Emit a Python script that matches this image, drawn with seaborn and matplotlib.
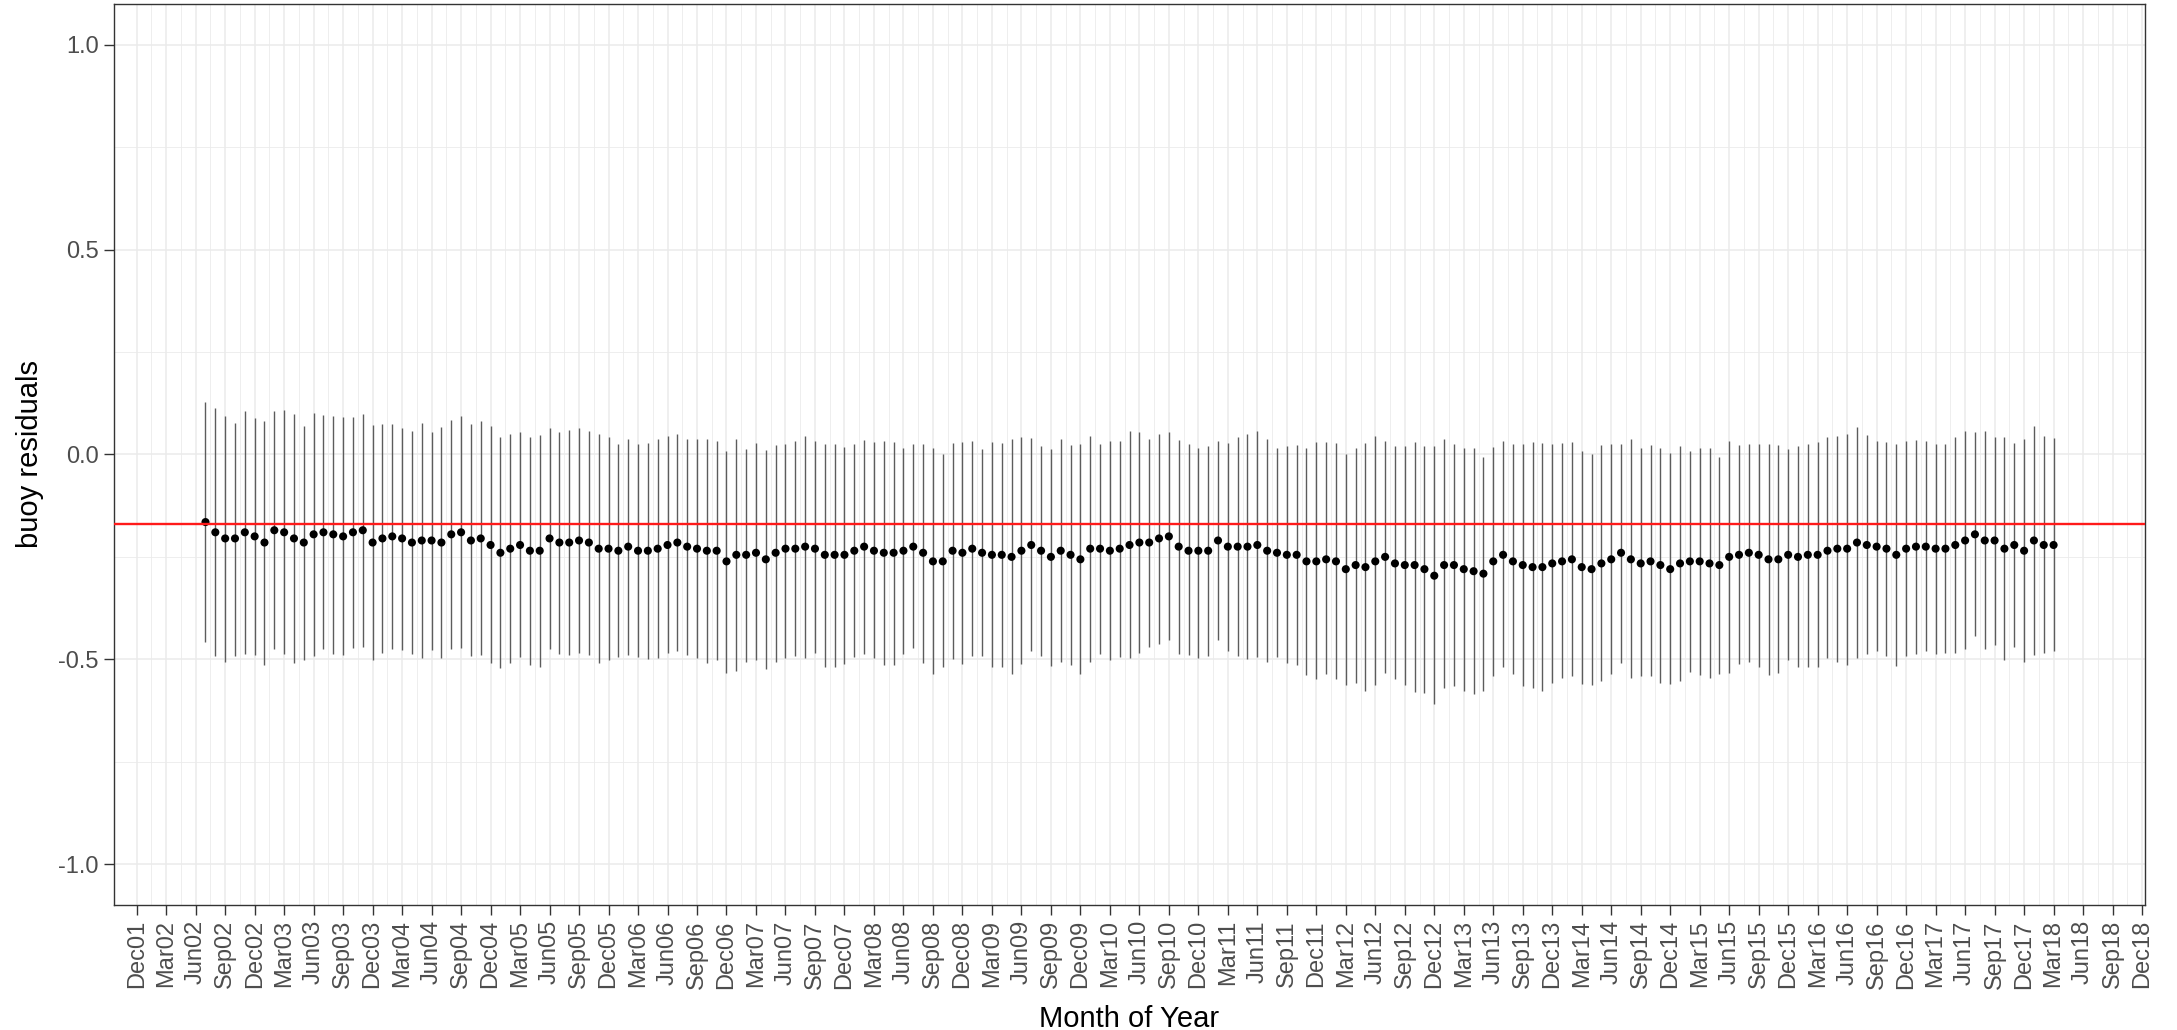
import numpy as np
import pandas as pd
import seaborn as sns
import matplotlib.pyplot as plt

# monthly buoy residuals, Jul 2002 .. Mar 2018
first_month = "2002-07"
resid_mean = [
    -0.165, -0.190, -0.205, -0.205, -0.190, -0.200, -0.215, -0.185, -0.190, -0.205,
    -0.215, -0.195, -0.190, -0.195, -0.200, -0.190, -0.185, -0.215, -0.205, -0.200,
    -0.205, -0.215, -0.210, -0.210, -0.215, -0.195, -0.190, -0.210, -0.205, -0.221,
    -0.240, -0.230, -0.221, -0.235, -0.235, -0.205, -0.215, -0.215, -0.210, -0.215,
    -0.230, -0.230, -0.235, -0.225, -0.235, -0.235, -0.230, -0.221, -0.215, -0.225,
    -0.230, -0.235, -0.235, -0.261, -0.245, -0.245, -0.240, -0.256, -0.240, -0.230,
    -0.230, -0.225, -0.230, -0.245, -0.245, -0.245, -0.235, -0.225, -0.235, -0.240,
    -0.240, -0.235, -0.225, -0.240, -0.261, -0.261, -0.235, -0.240, -0.230, -0.240,
    -0.245, -0.245, -0.250, -0.235, -0.221, -0.235, -0.250, -0.235, -0.245, -0.256,
    -0.230, -0.230, -0.235, -0.230, -0.221, -0.215, -0.215, -0.205, -0.200, -0.225,
    -0.235, -0.235, -0.235, -0.210, -0.225, -0.225, -0.225, -0.221, -0.235, -0.240,
    -0.245, -0.245, -0.261, -0.261, -0.256, -0.261, -0.280, -0.270, -0.275, -0.261,
    -0.250, -0.266, -0.270, -0.270, -0.280, -0.296, -0.270, -0.270, -0.280, -0.285,
    -0.291, -0.261, -0.245, -0.261, -0.270, -0.275, -0.275, -0.266, -0.261, -0.256,
    -0.275, -0.280, -0.266, -0.256, -0.240, -0.256, -0.266, -0.261, -0.270, -0.280,
    -0.266, -0.261, -0.261, -0.266, -0.270, -0.250, -0.245, -0.240, -0.245, -0.256,
    -0.256, -0.245, -0.250, -0.245, -0.245, -0.235, -0.230, -0.230, -0.215, -0.221,
    -0.225, -0.230, -0.245, -0.230, -0.225, -0.225, -0.230, -0.230, -0.221, -0.210,
    -0.195, -0.210, -0.210, -0.230, -0.221, -0.235, -0.210, -0.221, -0.221,
]
resid_upper = [
    0.129, 0.113, 0.095, 0.078, 0.107, 0.089, 0.082, 0.105, 0.108, 0.098,
    0.070, 0.102, 0.096, 0.095, 0.091, 0.092, 0.098, 0.072, 0.074, 0.074,
    0.065, 0.057, 0.076, 0.056, 0.066, 0.083, 0.093, 0.074, 0.082, 0.069,
    0.042, 0.049, 0.056, 0.042, 0.047, 0.065, 0.056, 0.060, 0.065, 0.058,
    0.049, 0.042, 0.025, 0.038, 0.025, 0.029, 0.038, 0.044, 0.049, 0.038,
    0.039, 0.039, 0.032, 0.009, 0.038, 0.013, 0.028, 0.011, 0.024, 0.025,
    0.033, 0.045, 0.034, 0.025, 0.025, 0.019, 0.025, 0.035, 0.031, 0.032,
    0.031, 0.017, 0.025, 0.025, 0.015, 0.001, 0.029, 0.031, 0.034, 0.013,
    0.031, 0.029, 0.038, 0.042, 0.041, 0.021, 0.013, 0.038, 0.023, 0.025,
    0.044, 0.025, 0.033, 0.033, 0.058, 0.054, 0.038, 0.051, 0.054, 0.035,
    0.025, 0.017, 0.021, 0.033, 0.029, 0.042, 0.050, 0.058, 0.038, 0.017,
    0.021, 0.023, 0.017, 0.031, 0.031, 0.028, 0.001, 0.016, 0.029, 0.044,
    0.033, 0.020, 0.020, 0.031, 0.020, 0.020, 0.038, 0.025, 0.016, 0.015,
    -0.007, 0.019, 0.033, 0.025, 0.025, 0.031, 0.029, 0.025, 0.029, 0.031,
    0.008, 0.001, 0.023, 0.025, 0.025, 0.038, 0.017, 0.023, 0.017, 0.003,
    0.021, 0.008, 0.015, 0.017, -0.006, 0.033, 0.023, 0.025, 0.025, 0.025,
    0.024, 0.013, 0.021, 0.025, 0.031, 0.043, 0.044, 0.051, 0.068, 0.047,
    0.033, 0.031, 0.025, 0.033, 0.036, 0.032, 0.025, 0.025, 0.043, 0.058,
    0.056, 0.058, 0.042, 0.042, 0.029, 0.038, 0.069, 0.044, 0.041,
]
resid_lower = [
    -0.457, -0.493, -0.506, -0.493, -0.487, -0.489, -0.514, -0.474, -0.487, -0.510,
    -0.502, -0.493, -0.475, -0.487, -0.489, -0.473, -0.469, -0.502, -0.485, -0.474,
    -0.477, -0.487, -0.496, -0.477, -0.497, -0.474, -0.473, -0.493, -0.489, -0.510,
    -0.522, -0.510, -0.495, -0.514, -0.518, -0.474, -0.487, -0.489, -0.485, -0.489,
    -0.508, -0.502, -0.495, -0.489, -0.495, -0.500, -0.497, -0.484, -0.479, -0.490,
    -0.497, -0.510, -0.502, -0.533, -0.528, -0.506, -0.502, -0.523, -0.506, -0.497,
    -0.493, -0.497, -0.485, -0.518, -0.518, -0.511, -0.495, -0.487, -0.497, -0.514,
    -0.514, -0.487, -0.473, -0.508, -0.536, -0.520, -0.500, -0.511, -0.493, -0.493,
    -0.520, -0.520, -0.536, -0.511, -0.481, -0.493, -0.516, -0.506, -0.514, -0.536,
    -0.506, -0.487, -0.503, -0.495, -0.498, -0.484, -0.469, -0.462, -0.454, -0.487,
    -0.490, -0.497, -0.493, -0.453, -0.479, -0.492, -0.500, -0.495, -0.506, -0.495,
    -0.510, -0.514, -0.538, -0.549, -0.536, -0.549, -0.563, -0.559, -0.577, -0.563,
    -0.534, -0.549, -0.563, -0.579, -0.583, -0.609, -0.571, -0.565, -0.577, -0.585,
    -0.577, -0.541, -0.520, -0.536, -0.565, -0.571, -0.577, -0.559, -0.547, -0.541,
    -0.560, -0.563, -0.552, -0.536, -0.508, -0.547, -0.542, -0.542, -0.559, -0.560,
    -0.552, -0.530, -0.538, -0.547, -0.536, -0.533, -0.511, -0.506, -0.518, -0.538,
    -0.534, -0.502, -0.520, -0.518, -0.520, -0.497, -0.506, -0.514, -0.497, -0.487,
    -0.481, -0.492, -0.516, -0.493, -0.487, -0.481, -0.487, -0.485, -0.484, -0.475,
    -0.444, -0.475, -0.465, -0.502, -0.469, -0.506, -0.489, -0.484, -0.479,
]
ref_level = -0.17

axis_start = "2001-12"
axis_end = "2018-12"

# months counted from Dec 2001
start = pd.Period(axis_start, freq="M")
months = pd.period_range(first_month, periods=len(resid_mean), freq="M")
df = pd.DataFrame({
    "month": [(m - start).n for m in months],
    "mean": resid_mean,
    "upper": resid_upper,
    "lower": resid_lower,
})

tick_periods = pd.period_range(axis_start, axis_end, freq="M")[::3]
tick_pos = [(p - start).n for p in tick_periods]
tick_lab = [p.strftime("%b%y") for p in tick_periods]
minor_pos = [t + 1.5 for t in tick_pos[:-1]]

sns.set_theme(style="white")
plt.rcParams["font.family"] = ["Liberation Sans", "DejaVu Sans"]

fig = plt.figure(figsize=(21.77, 10.3), dpi=100)
ax = fig.add_axes([0.0524, 0.1214, 0.9329, 0.8747])

grid_col = "#EBEBEB"
for xm in minor_pos:
    ax.axvline(xm, color=grid_col, lw=0.6, zorder=0)
for xt in tick_pos:
    ax.axvline(xt, color=grid_col, lw=1.1, zorder=0)
for ym in [-0.75, -0.25, 0.25, 0.75]:
    ax.axhline(ym, color=grid_col, lw=0.6, zorder=0)
for yt in [-1.0, -0.5, 0.0, 0.5, 1.0]:
    ax.axhline(yt, color=grid_col, lw=1.1, zorder=0)

ax.vlines(df["month"], df["lower"], df["upper"], color="#5c5c5c", lw=1.0, zorder=2)
sns.scatterplot(data=df, x="month", y="mean", color="black", s=34,
                edgecolor="none", ax=ax, zorder=3)
ax.axhline(ref_level, color="#FF1A1A", lw=1.7, zorder=4)

ax.set_xlim(-2.3, 204.3)
ax.set_ylim(-1.1, 1.1)
ax.set_xticks(tick_pos)
ax.set_xticklabels(tick_lab, rotation=90)
ax.set_yticks([-1.0, -0.5, 0.0, 0.5, 1.0])
ax.set_yticklabels(["-1.0", "-0.5", "0.0", "0.5", "1.0"])
ax.tick_params(axis="both", which="major", length=7, width=1.0, color="#333333",
               labelsize=17, labelcolor="#4D4D4D", pad=4, bottom=True, left=True)

for sp in ax.spines.values():
    sp.set_color("#333333")
    sp.set_linewidth(1.0)

ax.set_xlabel("Month of Year", fontsize=21, color="black", labelpad=12)
ax.set_ylabel("buoy residuals", fontsize=21, color="black", labelpad=10)

fig.savefig("out.png", dpi=100)
